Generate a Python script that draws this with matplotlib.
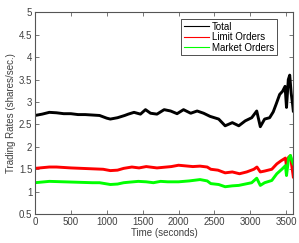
import matplotlib
matplotlib.use('Agg')
import matplotlib.pyplot as plt

plt.rcParams['font.family'] = ['Liberation Sans', 'DejaVu Sans']

# values (time in seconds, rate in shares/sec.)
t_total = [0, 100, 200, 300, 400, 500, 600, 700, 800, 900, 1000, 1050, 1150, 1250,
           1300, 1380, 1470, 1540, 1610, 1700, 1800, 1890, 1980, 2070, 2170, 2260,
           2350, 2440, 2560, 2650, 2750, 2840, 2930, 3020, 3090, 3140, 3200, 3270,
           3320, 3360, 3410, 3450, 3485, 3505, 3530, 3550, 3570, 3590, 3600]
total = [2.70, 2.73, 2.77, 2.76, 2.74, 2.74, 2.72, 2.72, 2.71, 2.70, 2.64, 2.62, 2.65, 2.70,
         2.73, 2.77, 2.73, 2.83, 2.75, 2.73, 2.83, 2.80, 2.74, 2.83, 2.75, 2.80,
         2.75, 2.68, 2.62, 2.47, 2.54, 2.47, 2.58, 2.65, 2.80, 2.45, 2.62, 2.65,
         2.78, 2.95, 3.17, 3.24, 3.35, 2.88, 3.50, 3.60, 3.20, 2.95, 2.80]

t_limit = [0, 200, 300, 500, 800, 950, 1050, 1150, 1236, 1350, 1450, 1550, 1700, 1900,
           2000, 2200, 2300, 2400, 2450, 2550, 2650, 2750, 2850, 2950, 3050, 3093,
           3140, 3200, 3300, 3370, 3430, 3490, 3505, 3535, 3560, 3575, 3600]
limit = [1.52, 1.55, 1.55, 1.53, 1.51, 1.50, 1.47, 1.48, 1.52, 1.55, 1.53, 1.56, 1.53, 1.56,
         1.59, 1.56, 1.57, 1.55, 1.50, 1.48, 1.42, 1.44, 1.40, 1.44, 1.50, 1.55,
         1.44, 1.46, 1.50, 1.62, 1.69, 1.75, 1.57, 1.77, 1.80, 1.62, 1.33]

t_market = [0, 200, 400, 600, 800, 900, 1050, 1150, 1236, 1300, 1440, 1550, 1650, 1750,
            1850, 2000, 2150, 2300, 2400, 2450, 2560, 2650, 2750, 2840, 2930, 3020,
            3090, 3140, 3200, 3300, 3370, 3440, 3490, 3505, 3535, 3560, 3580, 3600]
market = [1.20, 1.23, 1.22, 1.21, 1.20, 1.20, 1.16, 1.17, 1.20, 1.21, 1.23, 1.22, 1.20, 1.23,
          1.22, 1.22, 1.24, 1.27, 1.24, 1.18, 1.16, 1.11, 1.13, 1.14, 1.17, 1.20,
          1.30, 1.14, 1.20, 1.25, 1.40, 1.50, 1.58, 1.36, 1.75, 1.81, 1.70, 1.62]

fig = plt.figure(figsize=(2.99, 2.43), dpi=100)
ax = fig.add_axes([0.117, 0.119, 0.864, 0.830])

ax.plot(t_total, total, color='black', lw=2.1, label='Total')
ax.plot(t_limit, limit, color='red', lw=2.1, label='Limit Orders')
ax.plot(t_market, market, color='#00ff00', lw=2.1, label='Market Orders')

ax.set_xlim(0, 3600)
ax.set_ylim(0.5, 5)
ax.set_xticks(range(0, 3501, 500))
ax.set_yticks([0.5, 1, 1.5, 2, 2.5, 3, 3.5, 4, 4.5, 5])
ax.set_yticklabels(['0.5', '1', '1.5', '2', '2.5', '3', '3.5', '4', '4.5', '5'])
ax.tick_params(direction='in', top=True, right=True, labelsize=7, length=3,
               width=0.5, colors='#404040', pad=2)
for s in ax.spines.values():
    s.set_linewidth(0.8)
    s.set_color('#555555')

ax.set_xlabel('Time (seconds)', fontsize=7, color='#404040', labelpad=1)
ax.set_ylabel('Trading Rates (shares/sec.)', fontsize=7, color='#404040', labelpad=2)

leg = ax.legend(loc='upper right', bbox_to_anchor=(0.936, 0.965), borderaxespad=0,
                fontsize=7, fancybox=False, framealpha=1, handlelength=2.6,
                handletextpad=0.3, borderpad=0.25, labelspacing=0.05)
leg.get_frame().set_edgecolor('#333333')
leg.get_frame().set_linewidth(0.6)
for line in leg.get_lines():
    line.set_linewidth(0.8)

fig.savefig('out.png', dpi=100)
